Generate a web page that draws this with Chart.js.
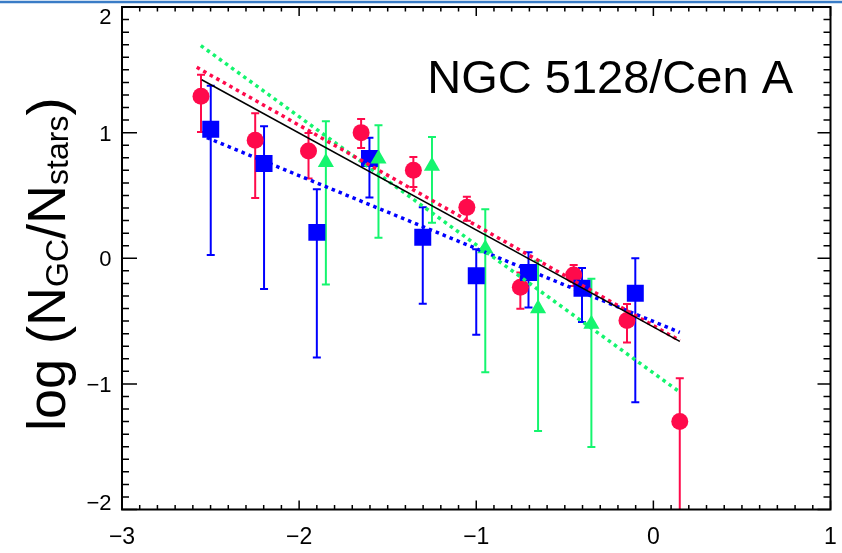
<!DOCTYPE html>
<html>
<head>
<meta charset="utf-8">
<script src="https://cdn.jsdelivr.net/npm/chart.js@4.4.1/dist/chart.umd.min.js"></script>
<style>
    html, body { margin: 0; padding: 0; background: #fff; }
    #wrap { width: 842px; height: 553px; }
</style>
</head>
<body>
<div id="wrap"><canvas id="gcChart" width="842" height="553"></canvas></div>
<script>
// ── data ──────────────────────────────────────────────────────────
const xTickValues = [-3, -2, -1, 0, 1];
const xTickLabels = ['−3', '−2', '−1', '0', '1'];
const yTickValues = [-2, -1, 0, 1, 2];
const yTickLabels = ['−2', '−1', '0', '1', '2'];

// red circles
const redX  = [-2.554, -2.248, -1.947, -1.650, -1.355, -1.053, -0.751, -0.450, -0.149, 0.149];
const redY  = [1.29, 0.94, 0.854, 1.00, 0.70, 0.405, -0.23, -0.133, -0.495, -1.30];
const redHi = [1.46, 1.155, 0.997, 1.108, 0.806, 0.489, -0.114, -0.053, -0.365, -0.955];
const redLo = [1.005, 0.48, 0.635, 0.878, 0.568, 0.298, -0.402, -0.22, -0.670, -2.3];

// blue squares
const blueX  = [-2.499, -2.198, -1.900, -1.603, -1.302, -1.000, -0.705, -0.403, -0.102];
const blueY  = [1.026, 0.754, 0.206, 0.794, 0.167, -0.14, -0.114, -0.238, -0.278];
const blueHi = [1.373, 1.05, 0.55, 0.96, 0.405, 0.071, 0.048, -0.077, 0.0];
const blueLo = [0.026, -0.244, -0.791, 0.484, -0.363, -0.609, -0.392, -0.508, -1.146];

// green triangles
const greenX  = [-1.849, -1.552, -1.250, -0.949, -0.651, -0.350];
const greenY  = [0.764, 0.791, 0.733, 0.077, -0.40, -0.524];
const greenHi = [1.09, 1.058, 0.965, 0.391, -0.02, -0.164];
const greenLo = [-0.209, 0.163, 0.283, -0.908, -1.376, -1.503];

// fits (end points)
const blackFitX = [-2.55, 0.149],  blackFitY = [1.421, -0.662];
const redFitX   = [-2.578, 0.15],  redFitY   = [1.52, -0.656];
const greenFitX = [-2.555, 0.143], greenFitY = [1.693, -1.059];
const blueFitX  = [-2.521, 0.149], blueFitY  = [0.96, -0.59];

const titleText = 'NGC 5128/Cen A';

const RED = '#ff0a4b', BLUE = '#0000ff', GREEN = '#14f56e';
const FONT = '"Liberation Sans", Arial, sans-serif';

const pts = (xs, ys) => xs.map((x, i) => ({ x, y: ys[i] }));

// ── plugins ───────────────────────────────────────────────────────

// vertical error bars with caps, drawn under the markers
const errorBars = {
    id: 'errorBars',
    beforeDatasetsDraw(chart) {
        const { ctx, chartArea: a, scales: { x, y } } = chart;
        ctx.save();
        ctx.beginPath();
        ctx.rect(a.left, a.top, a.right - a.left, a.bottom - a.top);
        ctx.clip();
        ctx.lineWidth = 2;
        chart.data.datasets.forEach(ds => {
            if (!ds.errLo) return;
            ctx.strokeStyle = ds.backgroundColor;
            ctx.beginPath();
            ds.data.forEach((p, i) => {
                const px = x.getPixelForValue(p.x);
                const top = y.getPixelForValue(ds.errHi[i]);
                const bot = y.getPixelForValue(ds.errLo[i]);
                ctx.moveTo(px, top); ctx.lineTo(px, bot);
                ctx.moveTo(px - 4, top); ctx.lineTo(px + 4, top);
                ctx.moveTo(px - 4, bot); ctx.lineTo(px + 4, bot);
            });
            ctx.stroke();
        });
        ctx.restore();
    }
};

// IDL-style box with inward ticks, y labels, axis title and annotation
const idlFrame = {
    id: 'idlFrame',
    afterDraw(chart) {
        const { ctx, chartArea: a, scales: { x, y } } = chart;
        ctx.save();

        // thin blue rule along the top of the page
        ctx.strokeStyle = '#3a7cc6';
        ctx.lineWidth = 2.5;
        ctx.beginPath(); ctx.moveTo(0, 2); ctx.lineTo(chart.width, 2); ctx.stroke();

        ctx.strokeStyle = '#000';
        ctx.lineWidth = 2;
        ctx.strokeRect(a.left, a.top, a.right - a.left, a.bottom - a.top);

        ctx.lineWidth = 1.5;
        ctx.beginPath();
        const nx = Math.round((x.max - x.min) * 10);
        for (let i = 0; i <= nx; i++) {
            const px = x.getPixelForValue(x.min + i / 10);
            const len = i % 10 === 0 ? 9 : 4.5;
            ctx.moveTo(px, a.bottom); ctx.lineTo(px, a.bottom - len);
            ctx.moveTo(px, a.top); ctx.lineTo(px, a.top + len);
        }
        const ny = Math.round((y.max - y.min) * 10);
        for (let i = 0; i <= ny; i++) {
            const py = y.getPixelForValue(y.min + i / 10);
            const major = i % 10 === 0;
            ctx.moveTo(a.left, py); ctx.lineTo(a.left + (major ? 15 : 7), py);
            ctx.moveTo(a.right, py); ctx.lineTo(a.right - (major ? 13 : 7), py);
        }
        ctx.stroke();

        // y tick labels, kept inside the box height like IDL does
        ctx.fillStyle = '#000';
        ctx.font = `22px ${FONT}`;
        ctx.textAlign = 'right';
        ctx.textBaseline = 'middle';
        yTickValues.forEach((v, i) => {
            let py = y.getPixelForValue(v) + 2;
            py = Math.min(Math.max(py, a.top + 10.5), a.bottom - 6);
            ctx.fillText(yTickLabels[i], a.left - 10.5, py);
        });

        // y axis title with subscripts, rotated
        ctx.translate(65, 431);
        ctx.rotate(-Math.PI / 2);
        ctx.textAlign = 'left';
        ctx.textBaseline = 'alphabetic';
        const parts = [['log (N', 54, 0], ['GC', 32, 3], ['/N', 54, 0], ['stars', 32, 3], [')', 54, 0]];
        let cx = 0;
        for (const [txt, size, dy] of parts) {
            ctx.font = `${size}px ${FONT}`;
            ctx.fillText(txt, cx, dy);
            cx += ctx.measureText(txt).width;
        }
        ctx.setTransform(1, 0, 0, 1, 0, 0);

        // galaxy name
        ctx.font = `47px ${FONT}`;
        ctx.textAlign = 'right';
        ctx.fillText(titleText, a.right - 37.5, a.top + 86);
        ctx.restore();
    }
};

// ── chart ─────────────────────────────────────────────────────────

const fitLine = (data, color, dotted) => ({
    type: 'line',
    data,
    borderColor: color,
    borderWidth: dotted ? 3.5 : 1.5,
    borderDash: dotted ? [3.5, 4] : [],
    pointRadius: 0,
    fill: false,
    order: 0
});

new Chart(document.getElementById('gcChart'), {
    type: 'scatter',
    data: {
        datasets: [
            fitLine(pts(blackFitX, blackFitY), '#000', false),
            fitLine(pts(redFitX, redFitY), RED, true),
            fitLine(pts(greenFitX, greenFitY), GREEN, true),
            fitLine(pts(blueFitX, blueFitY), BLUE, true),
            {
                data: pts(greenX, greenY), errHi: greenHi, errLo: greenLo,
                pointStyle: 'triangle', pointRadius: 9.3, borderWidth: 0,
                backgroundColor: GREEN, borderColor: GREEN, order: 1
            },
            {
                data: pts(blueX, blueY), errHi: blueHi, errLo: blueLo,
                pointStyle: 'rect', pointRadius: 12, borderWidth: 0,
                backgroundColor: BLUE, borderColor: BLUE, order: 2
            },
            {
                data: pts(redX, redY), errHi: redHi, errLo: redLo,
                pointStyle: 'circle', pointRadius: 8.5, borderWidth: 0,
                backgroundColor: RED, borderColor: RED, order: 3
            }
        ]
    },
    options: {
        responsive: false,
        animation: false,
        devicePixelRatio: 1,
        layout: { autoPadding: false, padding: { left: 0, right: 11.5, top: 7, bottom: 0 } },
        plugins: { legend: { display: false }, tooltip: { enabled: false } },
        scales: {
            x: {
                type: 'linear', min: -3, max: 1,
                grid: { display: false, drawTicks: false },
                border: { display: false },
                ticks: {
                    stepSize: 1, padding: 14, color: '#000',
                    font: { family: FONT, size: 23 },
                    callback: v => {
                        const i = xTickValues.indexOf(v);
                        return i >= 0 ? xTickLabels[i] : '';
                    }
                },
                afterFit: s => { s.height = 43.5; s.paddingLeft = 0; s.paddingRight = 0; }
            },
            y: {
                type: 'linear', min: -2, max: 2,
                grid: { display: false, drawTicks: false },
                border: { display: false },
                ticks: { display: false, stepSize: 1 },
                afterFit: s => { s.width = 122; s.paddingTop = 0; s.paddingBottom = 0; }
            }
        }
    },
    plugins: [errorBars, idlFrame]
});
</script>
</body>
</html>
